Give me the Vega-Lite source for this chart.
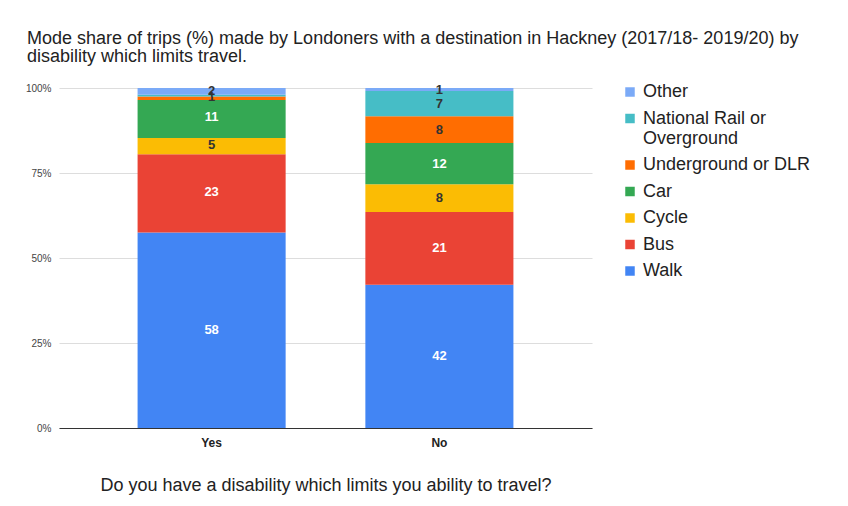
{
  "$schema": "https://vega.github.io/schema/vega-lite/v6.json",
  "autosize": "none",
  "width": 533,
  "height": 340,
  "padding": {"left": 59, "top": 88, "right": 256, "bottom": 78},
  "background": "white",
  "title": {
    "text": ["Mode share of trips (%) made by Londoners with a destination in Hackney (2017/18- 2019/20) by", "disability which limits travel."],
    "anchor": "start",
    "frame": "group",
    "dx": -32,
    "offset": 17,
    "font": "Liberation Sans",
    "fontSize": 18,
    "fontWeight": "normal",
    "color": "#222222",
    "lineHeight": 18
  },
  "data": {
    "values": [
      {"disability": "Yes", "mode": "Walk", "k": 1, "value": 57.5},
      {"disability": "Yes", "mode": "Bus", "k": 2, "value": 23},
      {"disability": "Yes", "mode": "Cycle", "k": 3, "value": 4.8},
      {"disability": "Yes", "mode": "Car", "k": 4, "value": 11.2},
      {"disability": "Yes", "mode": "Underground or DLR", "k": 5, "value": 1},
      {"disability": "Yes", "mode": "National Rail or Overground", "k": 6, "value": 0.5},
      {"disability": "Yes", "mode": "Other", "k": 7, "value": 2},
      {"disability": "No", "mode": "Walk", "k": 1, "value": 42.1},
      {"disability": "No", "mode": "Bus", "k": 2, "value": 21.4},
      {"disability": "No", "mode": "Cycle", "k": 3, "value": 8.2},
      {"disability": "No", "mode": "Car", "k": 4, "value": 12.1},
      {"disability": "No", "mode": "Underground or DLR", "k": 5, "value": 7.9},
      {"disability": "No", "mode": "National Rail or Overground", "k": 6, "value": 7.4},
      {"disability": "No", "mode": "Other", "k": 7, "value": 0.9}
    ]
  },
  "encoding": {
    "x": {
      "field": "disability",
      "type": "nominal",
      "sort": ["Yes", "No"],
      "scale": {"paddingInner": 0.35, "paddingOuter": 0.345},
      "axis": {
        "title": "Do you have a disability which limits you ability to travel?",
        "labelAngle": 0,
        "labelFont": "Liberation Sans",
        "labelFontSize": 12,
        "labelFontWeight": "bold",
        "labelColor": "#222222",
        "labelPadding": 9,
        "ticks": false,
        "domainColor": "#333333",
        "titleFont": "Liberation Sans",
        "titleFontSize": 18,
        "titleFontWeight": "normal",
        "titleColor": "#222222",
        "titlePadding": 28
      }
    },
    "y": {
      "field": "value",
      "type": "quantitative",
      "stack": "normalize",
      "scale": {"domain": [0, 1]},
      "axis": {
        "title": null,
        "format": ".0%",
        "values": [0, 0.25, 0.5, 0.75, 1],
        "labelFont": "Liberation Sans",
        "labelFontSize": 10,
        "labelColor": "#444444",
        "labelPadding": 8,
        "ticks": false,
        "domain": false,
        "gridColor": "#dddddd"
      }
    },
    "order": {"field": "k", "type": "quantitative"}
  },
  "layer": [
    {
      "mark": {"type": "bar"},
      "encoding": {
        "color": {
          "field": "mode",
          "type": "nominal",
          "scale": {
            "domain": ["Other", "National Rail or Overground", "Underground or DLR", "Car", "Cycle", "Bus", "Walk"],
            "range": ["#7BAAF7", "#46BDC6", "#FF6D01", "#34A853", "#FBBC04", "#EA4335", "#4285F4"]
          },
          "legend": {
            "title": null,
            "orient": "none",
            "legendX": 562,
            "legendY": -5,
            "symbolType": "square",
            "symbolSize": 90,
            "symbolStrokeWidth": 0,
            "labelFont": "Liberation Sans",
            "labelFontSize": 18,
            "labelColor": "#222222",
            "labelLimit": 300,
            "rowPadding": 8.5,
            "labelOffset": 4,
            "labelExpr": "datum.label == 'National Rail or Overground' ? ['National Rail or', 'Overground'] : datum.label"
          }
        }
      }
    },
    {
      "transform": [{"filter": "datum.value >= 0.8"}],
      "mark": {"type": "text", "font": "Liberation Sans", "fontSize": 13, "fontWeight": "bold", "baseline": "middle"},
      "encoding": {
        "y": {"field": "value", "type": "quantitative", "stack": "normalize", "bandPosition": 0.5},
        "text": {"field": "value", "type": "quantitative", "format": ".0f"},
        "color": {
          "condition": {"test": "indexof(['Walk','Bus','Car'], datum.mode) >= 0", "value": "#ffffff"},
          "value": "#333333"
        }
      }
    }
  ],
  "config": {"view": {"stroke": null}}
}
